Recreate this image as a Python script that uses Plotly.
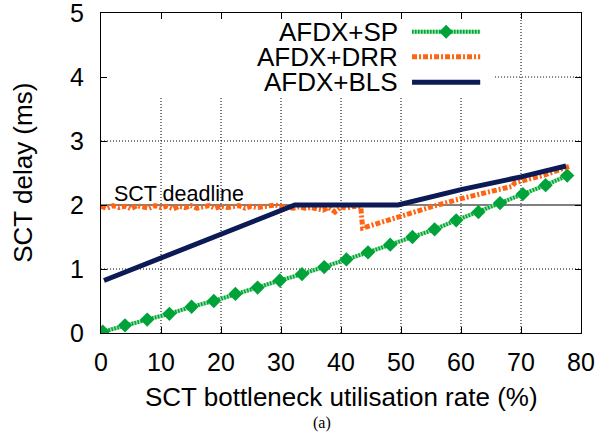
import plotly.graph_objects as go

# ---- data ----
sp_x = [0.3, 4.0, 7.7, 11.4, 15.1, 18.8, 22.4, 26.1, 29.8, 33.5, 37.2, 40.9,
        44.5, 48.2, 51.9, 55.6, 59.2, 62.9, 66.5, 70.3, 74.1, 77.7]
sp_y = [0.02, 0.12, 0.21, 0.30, 0.41, 0.50, 0.61, 0.71, 0.82, 0.92, 1.03, 1.15,
        1.26, 1.38, 1.50, 1.62, 1.76, 1.89, 2.03, 2.17, 2.31, 2.46]

drr_x = [0, 1, 2, 3, 4, 5, 6, 7, 8, 9, 10, 11, 12, 13, 14, 15, 16, 17, 18, 19,
         20, 21, 22, 23, 24, 25, 26, 27, 28, 29, 30, 31, 32, 33, 34, 35, 36, 37,
         38, 39, 40, 41, 42, 43.3, 43.6, 50, 55, 60, 65, 68.5, 69.0, 74, 78.2]
drr_y = [1.98, 1.95, 1.99, 1.96, 1.98, 1.94, 1.99, 1.97, 1.95, 1.99, 1.96, 1.98,
         1.94, 1.98, 1.96, 1.99, 1.95, 1.97, 1.99, 1.95, 1.98, 1.96, 1.97, 1.99,
         1.95, 1.98, 1.96, 1.97, 1.99, 2.00, 1.98, 1.96, 1.95, 1.97, 1.95, 1.96,
         1.94, 1.92, 1.96, 1.89, 1.97, 1.95, 1.98, 1.97, 1.64, 1.83, 1.97, 2.10,
         2.22, 2.29, 2.35, 2.47, 2.61]

bls_x = [0.5, 32.3, 49.5, 60, 70, 77.5]
bls_y = [0.82, 2.0, 2.0, 2.24, 2.44, 2.61]

names = ["AFDX+SP", "AFDX+DRR", "AFDX+BLS"]
deadline = 2.0

x_ticks = [0, 10, 20, 30, 40, 50, 60, 70, 80]
y_ticks = [0, 1, 2, 3, 4, 5]
x_range = [0, 80]
y_range = [0, 5]

GREEN = "#00a33a"
GREEN_LIGHT = "#8ddf9c"
ORANGE = "#ff6414"
NAVY = "#0c1a55"
FONT = "Liberation Sans"

# key box (in paper units of the plot area) that hides the grid behind it
KEY_X1 = 0.821
KEY_Y0 = 0.7375

fig = go.Figure()

# SP: light green base + darker stripes + diamonds
fig.add_trace(go.Scatter(x=sp_x, y=sp_y, mode="lines",
                         line=dict(color=GREEN_LIGHT, width=4),
                         showlegend=False, hoverinfo="skip"))
fig.add_trace(go.Scatter(x=sp_x, y=sp_y, mode="lines+markers", name=names[0],
                         line=dict(color=GREEN, width=4, dash="1.5px,1.5px"),
                         marker=dict(symbol="diamond", size=11, color=GREEN),
                         showlegend=False))
# DRR
fig.add_trace(go.Scatter(x=drr_x, y=drr_y, mode="lines", name=names[1],
                         line=dict(color=ORANGE, width=5, dash="5px,2px,2px,2px"),
                         showlegend=False))
# BLS
fig.add_trace(go.Scatter(x=bls_x, y=bls_y, mode="lines", name=names[2],
                         line=dict(color=NAVY, width=5),
                         showlegend=False))

GRID = dict(color="black", width=1, dash="1px,2px")
shapes = []
# dotted grid (drawn as shapes so the key box can interrupt it)
key_x_data = x_range[0] + KEY_X1 * (x_range[1] - x_range[0])
key_y_data = y_range[0] + KEY_Y0 * (y_range[1] - y_range[0])
for xv in x_ticks[1:-1]:
    top = key_y_data if xv < key_x_data else y_range[1]
    shapes.append(dict(type="line", xref="x", yref="y", x0=xv, x1=xv,
                       y0=y_range[0], y1=top, line=GRID, layer="below"))
for yv in y_ticks[1:-1]:
    if yv == deadline:
        continue
    left = key_x_data if yv > key_y_data else x_range[0]
    shapes.append(dict(type="line", xref="x", yref="y", x0=left, x1=x_range[1],
                       y0=yv, y1=yv, line=GRID, layer="below"))
# deadline line
shapes.append(dict(type="line", xref="paper", yref="y", x0=0, x1=1, y0=deadline,
                   y1=deadline, line=dict(color="black", width=1), layer="below"))

# manual gnuplot-style key
key_y = [0.9416, 0.8634, 0.7834]
kx0, kx1 = 0.648, 0.79
shapes.append(dict(type="line", xref="paper", yref="paper", x0=kx0, x1=kx1,
                   y0=key_y[0], y1=key_y[0], line=dict(color=GREEN_LIGHT, width=4)))
shapes.append(dict(type="line", xref="paper", yref="paper", x0=kx0, x1=kx1,
                   y0=key_y[0], y1=key_y[0],
                   line=dict(color=GREEN, width=4, dash="1.5px,1.5px")))
shapes.append(dict(type="path", xref="paper", yref="paper", xsizemode="pixel",
                   ysizemode="pixel", xanchor=(kx0 + kx1) / 2, yanchor=key_y[0],
                   path="M -7 0 L 0 7 L 7 0 L 0 -7 Z", fillcolor=GREEN,
                   line=dict(width=0)))
shapes.append(dict(type="line", xref="paper", yref="paper", x0=kx0, x1=kx1,
                   y0=key_y[1], y1=key_y[1],
                   line=dict(color=ORANGE, width=5, dash="5px,2px,2px,2px")))
shapes.append(dict(type="line", xref="paper", yref="paper", x0=kx0, x1=kx1,
                   y0=key_y[2], y1=key_y[2], line=dict(color=NAVY, width=5)))

annotations = []
for nm, ky in zip(names, key_y):
    annotations.append(dict(text=nm, xref="paper", yref="paper", x=0.623, y=ky,
                            xanchor="right", yanchor="middle", showarrow=False,
                            font=dict(family=FONT, size=26, color="black")))
annotations.append(dict(text="SCT deadline", xref="x", yref="y", x=1.9, y=deadline,
                        xanchor="left", yanchor="bottom", yshift=-3, showarrow=False,
                        font=dict(family=FONT, size=21.5, color="black")))
annotations.append(dict(text="SCT bottleneck utilisation rate (%)", xref="paper",
                        yref="paper", x=0.5, y=-0.2, xanchor="center",
                        yanchor="middle", showarrow=False,
                        font=dict(family=FONT, size=26, color="black")))
annotations.append(dict(text="SCT delay (ms)", xref="paper", yref="paper",
                        x=-0.163, y=0.5, xanchor="center", yanchor="middle",
                        textangle=-90, showarrow=False,
                        font=dict(family=FONT, size=26, color="black")))
annotations.append(dict(text="(a)", xref="paper", yref="paper", x=0.46, y=-0.281,
                        xanchor="center", yanchor="middle", showarrow=False,
                        font=dict(family="Liberation Serif", size=16, color="black")))

axis_common = dict(showline=True, linecolor="black", linewidth=1, mirror="allticks",
                   ticks="inside", ticklen=6, tickcolor="black", tickwidth=1,
                   showgrid=False, zeroline=False, automargin=False,
                   ticklabeloverflow="allow",
                   tickfont=dict(family=FONT, size=25, color="black"))

fig.update_layout(
    width=616, height=438,
    margin=dict(l=101, r=35, t=13, b=105, autoexpand=False),
    paper_bgcolor="white", plot_bgcolor="white",
    shapes=shapes, annotations=annotations,
    xaxis=dict(range=x_range, tickvals=x_ticks, ticklabelstandoff=7, **axis_common),
    yaxis=dict(range=y_range, tickvals=y_ticks, ticklabelstandoff=11, **axis_common),
)

# remove the default 8px page margin so the figure fills the window exactly
fig.write_html("out.html",
               config={"displayModeBar": False, "staticPlot": True},
               post_script="document.body.style.margin='0';"
                           "document.body.style.overflow='hidden';")
